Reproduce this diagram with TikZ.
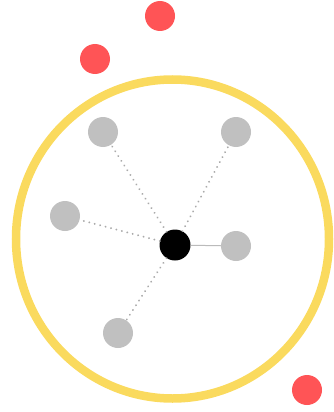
\documentclass[tikz,border=0pt]{standalone}
\usepackage{xcolor}
\usepackage{tikz}
\usetikzlibrary{positioning,calc}
\definecolor{ringyellow}{RGB}{250, 218, 94}
\definecolor{dotred}{RGB}{255, 84, 86}
\definecolor{leafgray}{RGB}{192, 192, 192}
\definecolor{linkgray}{RGB}{170, 170, 170}

\begin{document}
\begin{tikzpicture}[x=1pt, y=-1pt,
    leaf/.style={circle, fill=leafgray, minimum size=30pt, inner sep=0pt},
    stray/.style={circle, fill=dotred, minimum size=30pt, inner sep=0pt},
    weak/.style={linkgray, line width=2.1pt, line cap=round, dash pattern=on 0.01pt off 5.6pt},
    strong/.style={linkgray!80, line width=1pt}]
    \useasboundingbox (0,0) rectangle (334,412);
    \coordinate (ringc) at (172.5,239);
    \draw [ringyellow, line width=8.5pt] (ringc) ellipse [x radius=156.5, y radius=159.5];
    \node [circle, fill=black, minimum size=31pt, inner sep=0pt] (hub) at (175,245) {};
    \node [leaf] (topleft) at (103,132) {};
    \node [leaf] (topright) at (236,132) {};
    \node [leaf] (left) at (65,216) {};
    \node [leaf] (right) at (236,246) {};
    \node [leaf] (bottomleft) at (118,333) {};
    \node [stray] (redtop) at (160,16) {};
    \node [stray] (redmid) at (95,59) {};
    \node [stray] (redlow) at (307,390) {};

    \draw [weak] (hub) -- (topleft);
    \draw [weak] (hub) -- (topright);
    \draw [weak] (hub) -- (left);
    \draw [weak] (hub) -- (bottomleft);
    \draw [strong] (hub) -- (right);
\end{tikzpicture}
\end{document}
